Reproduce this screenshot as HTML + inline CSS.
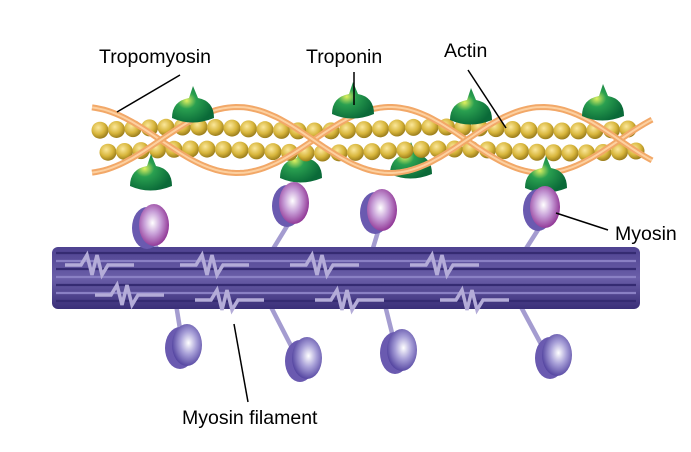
<!DOCTYPE html>
<html><head><meta charset="utf-8"><style>
html,body{margin:0;padding:0;background:#fff;}
svg{display:block;font-family:"Liberation Sans",Arial,sans-serif;}
</style></head><body>
<svg id="s" width="691" height="452" viewBox="0 0 691 452">
<defs>
<radialGradient id="bead" cx="40%" cy="35%" r="65%"><stop offset="0" stop-color="#fbe79a"/><stop offset="0.6" stop-color="#d8b63c"/><stop offset="1" stop-color="#9c7e1c"/></radialGradient>
<radialGradient id="head" cx="45%" cy="45%" r="60%"><stop offset="0" stop-color="#ffffff"/><stop offset="0.45" stop-color="#c8a0d8"/><stop offset="1" stop-color="#8a2a8e"/></radialGradient>
<radialGradient id="head2" cx="55%" cy="45%" r="60%"><stop offset="0" stop-color="#ffffff"/><stop offset="0.45" stop-color="#a8a0d8"/><stop offset="1" stop-color="#4a3a9a"/></radialGradient>
<radialGradient id="trop" cx="35%" cy="40%" r="65%"><stop offset="0" stop-color="#e0f060"/><stop offset="0.35" stop-color="#2aa050"/><stop offset="1" stop-color="#0a6a38"/></radialGradient>
<linearGradient id="fil" x1="0" y1="0" x2="0" y2="1"><stop offset="0" stop-color="#4e4290"/><stop offset="0.5" stop-color="#6a5ea8"/><stop offset="1" stop-color="#3a2f78"/></linearGradient>
</defs>
<g id="stems"></g>
<g id="filament">
<rect x="52" y="247" width="588" height="62" rx="6" fill="url(#fil)"/>
</g>
<g id="stripes"></g>
<g id="lowerheads"></g>
<g id="tropb"></g>
<g id="actin"></g>
<g id="tropo"></g>
<g id="tropf"></g>
<g id="upperheads"></g>
<g font-size="19.5" fill="#000">
<text x="99" y="63">Tropomyosin</text>
<text x="306" y="63">Troponin</text>
<text x="444" y="57">Actin</text>
<text x="615" y="240">Myosin</text>
<text x="182" y="424">Myosin filament</text>
</g>
<g stroke="#000" stroke-width="1.5">
<line x1="180" y1="75" x2="117" y2="112"/>
<line x1="354" y1="72" x2="354" y2="105"/>
<line x1="468" y1="70" x2="506" y2="128"/>
<line x1="608" y1="230" x2="556" y2="213"/>
<line x1="248" y1="402" x2="234" y2="324"/>
</g>
</svg>
<script>
var NS="http://www.w3.org/2000/svg";
function mk(p,t,a){var e=document.createElementNS(NS,t);for(var k in a)e.setAttribute(k,a[k]);p.appendChild(e);return e;}
var st=document.getElementById('stripes');
[253,261,269,277,285,293,301].forEach(function(y,i){var l=mk(st,'line',{x1:56,y1:y,x2:636,y2:y,stroke:i%2?'#8a80c4':'#352b72','stroke-width':2.2});

});
var stems=document.getElementById('stems');
[[95,265],[210,265],[320,265],[440,265],[125,295],[225,300],[345,300],[470,300]].forEach(function(p){
var w=mk(st,'path',{d:'M'+(p[0]-30)+' '+p[1]+' l16 0 l6 -10 l5 20 l5 -20 l5 20 l6 -10 l26 0',fill:'none',stroke:'#b4acd8','stroke-width':3.5});

});
var up=document.getElementById('upperheads'),lo=document.getElementById('lowerheads');
function head(g,x,y,fill,nx,ny){mk(stems,'path',{d:'M'+nx+' '+ny+' L'+x+' '+(y+15),stroke:'#a49cd0','stroke-width':4.5,fill:'none'});
mk(g,'ellipse',{cx:x-5,cy:y+3,rx:15,ry:21,fill:'#6a5ab0'});
var e=mk(g,'ellipse',{cx:x+2,cy:y,rx:15,ry:21,fill:fill});

}
head(up,152,225,'url(#head)',165,262);head(up,292,203,'url(#head)',265,262);head(up,380,210,'url(#head)',370,258);head(up,543,207,'url(#head)',520,258);
head(lo,185,345,'url(#head2)',175,298);head(lo,305,358,'url(#head2)',270,305);head(lo,400,350,'url(#head2)',385,305);head(lo,555,355,'url(#head2)',520,305);
var ac=document.getElementById('actin');
for(var x=100;x<=636;x+=16.5){[129,151].forEach(function(y,i){var b=mk(ac,'circle',{cx:x+(i?8:0),cy:y+Math.sin(x/40)*2,r:8.5,fill:'url(#bead)'});

});}
var tb=document.getElementById('tropb'),tf=document.getElementById('tropf');
function tn(g,x,y){var e=mk(g,'path',{d:'M'+(x-20)+' '+y+' q0 -17 17 -20 l4 -12 l5 12 q16 3 16 20 q-22 9 -42 0z',fill:'url(#trop)'});

}
tn(tf,192,118);tn(tf,352,114);tn(tf,470,120);tn(tf,602,116);
tn(tf,150,186);tn(tb,300,178);tn(tb,410,174);tn(tf,545,188);
var tr=document.getElementById('tropo');
[1,-1].forEach(function(sg){var d='';for(var x=92;x<=652;x+=4){var y=140-sg*33*Math.cos(2*Math.PI*(x-84)/306);d+=(x==92?'M':'L')+x+' '+y.toFixed(1);}
var p=mk(tr,'path',{d:d,fill:'none',stroke:'#f2a868','stroke-width':6});


mk(tr,'path',{d:d,fill:'none',stroke:'#fcd0a0','stroke-width':2});});
</script>
</body></html>
